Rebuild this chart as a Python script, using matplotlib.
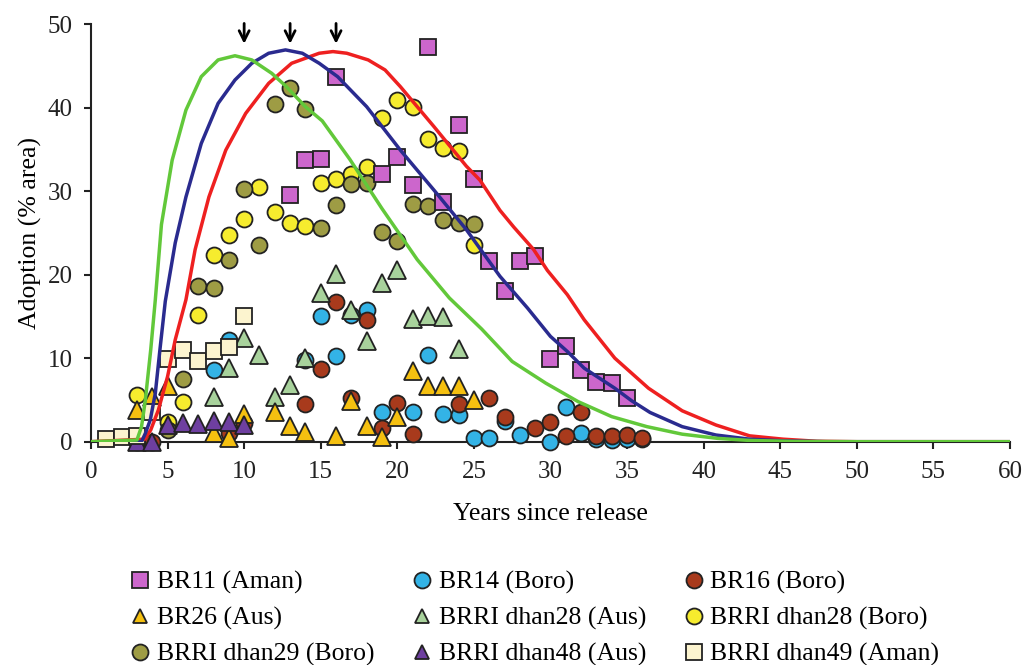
import matplotlib
matplotlib.use("Agg")
import matplotlib.pyplot as plt
from matplotlib.lines import Line2D

plt.rcParams['font.family'] = ['Liberation Serif', 'DejaVu Serif']

# observed adoption (% area) by years since release
br11_x = [13, 14, 15, 16, 19, 20, 21, 22, 23, 24, 25, 26, 27, 28, 29, 30, 31, 32, 33, 34, 35]
br11_y = [29.5, 33.7, 33.9, 43.6, 32.0, 34.1, 30.7, 47.2, 28.7, 37.9, 31.4, 21.6, 18.0, 21.6, 22.2,
          9.9, 11.4, 8.6, 7.1, 7.0, 5.2]

br14_x = [3, 8, 9, 14, 15, 16, 17, 18, 19, 21, 22, 23, 24, 25, 26, 27, 28, 30, 31, 32, 33, 34, 35, 36]
br14_y = [0.0, 8.6, 12.2, 9.8, 15.0, 10.3, 15.2, 15.8, 3.6, 3.6, 10.4, 3.3, 3.2, 0.5, 0.5, 2.5, 0.8,
          0.0, 4.2, 1.1, 0.3, 0.2, 0.3, 0.3]

br16_x = [4, 9, 10, 14, 15, 16, 17, 18, 19, 20, 21, 24, 26, 27, 29, 30, 31, 32, 33, 34, 35, 36]
br16_y = [0.0, 1.0, 2.2, 4.5, 8.7, 16.7, 5.2, 14.6, 1.6, 4.6, 0.9, 4.5, 5.2, 2.9, 1.6, 2.3, 0.7, 3.6,
          0.7, 0.7, 0.8, 0.5]

br26_x = [3, 4, 5, 8, 9, 10, 12, 13, 14, 16, 17, 18, 19, 20, 21, 22, 23, 24, 25]
br26_y = [3.8, 5.3, 6.7, 1.0, 0.4, 3.3, 3.6, 1.9, 1.2, 0.7, 4.9, 1.9, 0.6, 3.0, 8.5, 6.7, 6.7, 6.7, 5.0]

d28aus_x = [8, 9, 10, 11, 12, 13, 14, 15, 16, 17, 18, 19, 20, 21, 22, 23, 24]
d28aus_y = [5.4, 8.8, 12.4, 10.4, 5.4, 6.8, 10.0, 17.8, 20.1, 15.8, 12.1, 19.0, 20.5, 14.7, 15.1, 14.9, 11.1]

d28boro_x = [3, 5, 6, 7, 8, 9, 10, 11, 12, 13, 14, 15, 16, 17, 18, 19, 20, 21, 22, 23, 24, 25]
d28boro_y = [5.6, 2.4, 4.7, 15.2, 22.3, 24.8, 26.6, 30.5, 27.5, 26.2, 25.8, 31.0, 31.5, 32.1, 32.9,
             38.7, 40.9, 40.1, 36.2, 35.2, 34.8, 23.6]

d29_x = [5, 6, 7, 8, 9, 10, 11, 12, 13, 14, 15, 16, 17, 18, 19, 20, 21, 22, 23, 24, 25]
d29_y = [1.4, 7.5, 18.6, 18.4, 21.7, 30.2, 23.5, 40.4, 42.3, 39.8, 25.6, 28.3, 30.8, 31.0, 25.1, 24.0,
         28.4, 28.2, 26.5, 26.2, 26.0]

d48_x = [3, 4, 5, 6, 7, 8, 9, 10]
d48_y = [0.0, 0.0, 2.0, 2.2, 2.1, 2.5, 2.4, 2.0]

d49_x = [1, 2, 3, 4, 5, 6, 7, 8, 9, 10]
d49_y = [0.3, 0.6, 0.7, 3.6, 9.9, 11.0, 9.6, 10.8, 11.3, 15.0]

# fitted adoption curves
red_x = [0, 3.5, 3.9, 4.4, 5.0, 5.5, 6.2, 6.8, 7.7, 8.8, 10.1, 11.6, 13.1, 14.9, 15.8, 16.7, 18.1,
         19.2, 20.2, 22.4, 24.5, 25.4, 26.7, 27.6, 28.9, 29.8, 31.1, 32.2, 34.2, 36.4, 38.6, 40.8,
         43.0, 45.2, 47.4, 50, 60]
red_y = [0, 0.3, 1.4, 3.8, 7.8, 12.2, 17.0, 23.0, 29.3, 34.9, 39.3, 42.9, 45.3, 46.5, 46.7, 46.5, 45.7,
         44.5, 42.5, 37.7, 33.0, 31.3, 27.7, 25.7, 23.0, 20.5, 17.6, 14.6, 10.0, 6.4, 3.7, 2.0,
         0.7, 0.3, 0.05, 0, 0]

blue_x = [0, 3.3, 3.55, 3.87, 4.2, 4.5, 4.85, 5.5, 6.2, 7.2, 8.3, 9.4, 10.5, 11.6, 12.7, 13.8, 14.9,
          16.1, 18.0, 20.2, 22.4, 24.5, 26.7, 28.5, 30.0, 31.1, 32.2, 34.2, 35.3, 36.5, 38.6, 40.8,
          43.0, 45.2, 48, 60]
blue_y = [0, 0, 1.0, 2.6, 5.8, 11.0, 16.8, 23.8, 29.3, 35.7, 40.5, 43.3, 45.3, 46.5, 46.9, 46.5, 45.3,
          43.7, 40.1, 34.9, 30.1, 25.4, 19.8, 16.0, 12.6, 10.8, 8.8, 6.4, 4.9, 3.5, 1.8, 0.8,
          0.3, 0.1, 0, 0]

green_x = [0, 3.0, 3.3, 3.55, 3.9, 4.2, 4.6, 5.3, 6.2, 7.2, 8.3, 9.4, 10.5, 11.8, 12.7, 14.0, 15.1,
           16.9, 19.0, 21.3, 23.4, 25.5, 27.5, 29.7, 31.8, 34.0, 36.3, 38.6, 40.9, 43.0, 46.0, 50, 60]
green_y = [0, 0.2, 1.8, 5.0, 11.0, 17.0, 26.0, 33.7, 39.7, 43.7, 45.7, 46.2, 45.7, 44.1, 42.6, 40.1, 38.4,
           33.8, 27.9, 21.8, 17.2, 13.5, 9.6, 7.0, 4.8, 3.0, 1.8, 0.9, 0.4, 0.15, 0.03, 0, 0]

peak_years = [10, 13, 16]

fig = plt.figure(figsize=(10.27, 6.65), dpi=100)
ax = fig.add_axes([0.0886, 0.3358, 0.8948, 0.6281])

edge = '#222222'
ms = 11.5
series = [
    ('BR14 (Boro)', br14_x, br14_y, 'o', '#33b3e6'),
    ('BR16 (Boro)', br16_x, br16_y, 'o', '#a83a1c'),
    ('BRRI dhan28 (Boro)', d28boro_x, d28boro_y, 'o', '#f6ec2e'),
    ('BRRI dhan29 (Boro)', d29_x, d29_y, 'o', '#9e9c44'),
    ('BR11 (Aman)', br11_x, br11_y, 's', '#cc66cc'),
    ('BRRI dhan28 (Aus)', d28aus_x, d28aus_y, '^', '#a8d29c'),
    ('BR26 (Aus)', br26_x, br26_y, '^', '#f5c010'),
    ('BRRI dhan48 (Aus)', d48_x, d48_y, '^', '#6e3fa0'),
    ('BRRI dhan49 (Aman)', d49_x, d49_y, 's', '#fcf4cf'),
]
style = {}
for name, xs, ys, mk, col in series:
    ax.plot(xs, ys, ls='none', marker=mk, ms=ms if mk != '^' else ms + 1,
            mfc=col, mec=edge, mew=1.3, zorder=3, clip_on=False)
    style[name] = (mk, col)

ax.plot(red_x, red_y, color='#ee2020', lw=2.5, zorder=5)
ax.plot(blue_x, blue_y, color='#2a2b8f', lw=2.5, zorder=5)
ax.plot(green_x, green_y, color='#62c83a', lw=2.5, zorder=5)

for yr in peak_years:
    ax.annotate('', xy=(yr, 47.3), xytext=(yr, 50.4),
                arrowprops=dict(arrowstyle='->', lw=2, color='black', mutation_scale=18),
                annotation_clip=False)

ax.set_xlim(0, 60)
ax.set_ylim(0, 50)
ax.set_xticks(range(0, 61, 5))
ax.set_yticks(range(0, 51, 10))
ax.spines['top'].set_visible(False)
ax.spines['right'].set_visible(False)
for s in ['left', 'bottom']:
    ax.spines[s].set_linewidth(1.5)
    ax.spines[s].set_color('#222222')
ax.tick_params(direction='out', length=5, width=1.5, labelsize=18, colors='#222222', pad=9)
ax.tick_params(axis='y', pad=8)
ax.set_xlabel('Years since release', fontsize=18.5, labelpad=14)
ax.set_ylabel('Adoption (% area)', fontsize=18.5, labelpad=4)

order = ['BR11 (Aman)', 'BR26 (Aus)', 'BRRI dhan29 (Boro)',
         'BR14 (Boro)', 'BRRI dhan28 (Aus)', 'BRRI dhan48 (Aus)',
         'BR16 (Boro)', 'BRRI dhan28 (Boro)', 'BRRI dhan49 (Aman)']
handles = [Line2D([], [], ls='none', marker=style[n][0], mfc=style[n][1], mec=edge, mew=1.3,
                  ms=11.5 if style[n][0] != '^' else 10) for n in order]
fig.legend(handles, order, ncol=3, loc='upper left', bbox_to_anchor=(0.128, 0.142),
           frameon=False, fontsize=18.5, handlelength=0.7, handletextpad=0.3,
           columnspacing=1.5, labelspacing=0.5, borderpad=0, borderaxespad=0)

fig.savefig('out.png', dpi=100)
